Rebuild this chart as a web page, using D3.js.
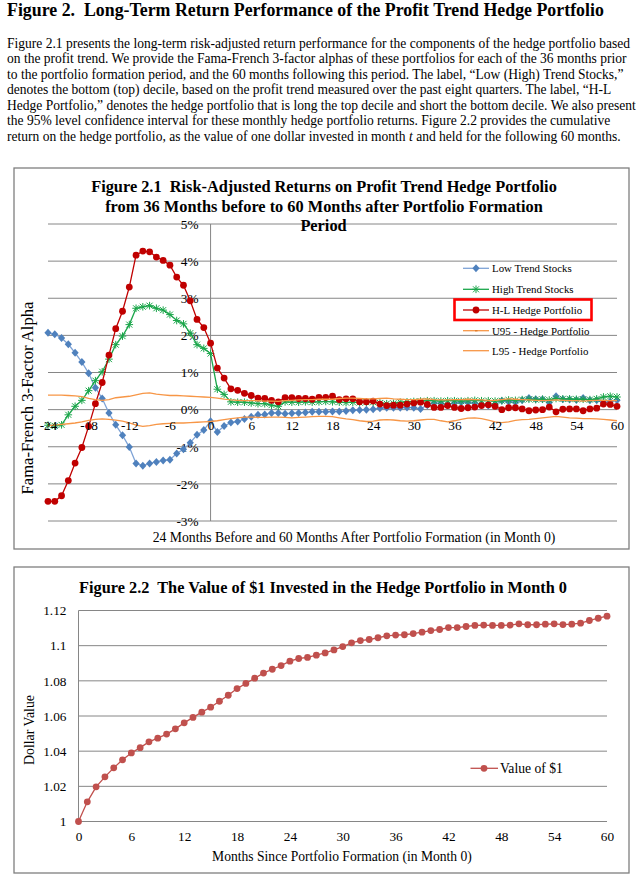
<!DOCTYPE html>
<html><head><meta charset="utf-8">
<script src="https://cdn.jsdelivr.net/npm/d3@7"></script>
<style>
body{margin:0;background:#fff}
svg{display:block}
text{font-family:"Liberation Serif","Times New Roman",serif;fill:#000}
</style>
</head><body>
<svg id="c" width="643" height="879"></svg>
<script>
// ---------- DATA ----------
const months1 = d3.range(-24, 61);
const lowTrend = [2.07,2.03,1.93,1.76,1.53,1.28,0.98,0.59,0.30,-0.09,-0.41,-0.69,-1.01,-1.45,-1.51,-1.45,-1.41,-1.37,-1.35,-1.18,-1.07,-0.89,-0.68,-0.55,
 -0.31,-0.60,-0.44,-0.35,-0.32,-0.25,-0.19,-0.14,-0.13,-0.09,-0.09,
 -0.11,-0.10,-0.09,-0.08,-0.06,-0.06,-0.06,-0.05,-0.05,-0.04,-0.02,-0.01,0.00,0.01,0.04,0.05,0.05,0.05,0.06,0.05,0.02,
 0.12,0.18,0.17,0.13,0.18,0.20,0.19,0.18,0.13,0.11,0.14,0.24,0.21,0.20,0.25,0.31,0.28,0.28,0.19,0.36,0.28,0.27,0.26,0.31,0.25,0.25,0.19,0.22,0.25];
const highTrend = [-0.42,-0.44,-0.41,-0.14,0.09,0.25,0.51,0.78,1.02,1.36,1.75,1.98,2.29,2.73,2.77,2.80,2.73,2.68,2.56,2.40,2.31,2.06,1.75,1.65,
 1.51,0.55,0.41,0.21,0.20,0.20,0.18,0.16,0.16,0.12,0.09,
 0.21,0.20,0.20,0.21,0.20,0.21,0.22,0.21,0.20,0.19,0.20,0.19,0.20,0.20,0.18,0.16,0.17,0.20,0.21,0.22,0.23,
 0.24,0.24,0.23,0.24,0.24,0.23,0.24,0.25,0.24,0.24,0.23,0.24,0.26,0.25,0.27,0.28,0.27,0.28,0.26,0.30,0.29,0.29,0.28,0.28,0.27,0.29,0.34,0.36,0.34];
const hedgeHL = [-2.47,-2.47,-2.32,-1.91,-1.44,-1.02,-0.45,0.16,0.73,1.47,2.18,2.65,3.30,4.16,4.27,4.25,4.11,4.02,3.89,3.57,3.35,2.93,2.43,2.21,
 1.79,1.12,0.85,0.56,0.52,0.44,0.38,0.31,0.30,0.25,0.21,
 0.32,0.32,0.30,0.30,0.28,0.33,0.33,0.36,0.27,0.29,0.29,0.21,0.21,0.23,0.15,0.11,0.12,0.12,0.15,0.18,0.20,
 0.14,0.06,0.06,0.11,0.06,0.03,0.05,0.07,0.11,0.13,0.09,0.00,0.05,0.05,0.02,-0.03,-0.01,0.00,0.07,-0.06,0.01,0.02,0.02,-0.03,0.02,0.04,0.15,0.14,0.09];
const u95 = [0.39,0.39,0.39,0.38,0.37,0.35,0.30,0.27,0.25,0.27,0.32,0.34,0.36,0.40,0.44,0.45,0.42,0.40,0.38,0.38,0.37,0.36,0.35,0.34,
 0.33,0.31,0.28,0.26,0.25,0.24,0.24,0.24,0.23,0.23,0.22,0.24,0.25,0.26,0.27,0.27,0.28,0.28,0.28,0.30,0.31,0.31,0.30,0.29,
 0.29,0.30,0.31,0.29,0.28,0.27,0.27,0.28,0.29,0.27,0.26,0.26,0.27,0.27,0.28,0.27,0.26,0.25,0.25,0.27,0.29,0.28,0.27,0.26,
 0.25,0.24,0.25,0.26,0.25,0.24,0.24,0.23,0.24,0.25,0.25,0.24,0.24];
const l95 = [-0.43,-0.42,-0.40,-0.38,-0.36,-0.33,-0.29,-0.26,-0.25,-0.26,-0.28,-0.31,-0.36,-0.42,-0.45,-0.43,-0.40,-0.38,-0.37,-0.36,-0.36,-0.35,-0.34,-0.33,
 -0.32,-0.30,-0.27,-0.24,-0.22,-0.20,-0.20,-0.21,-0.21,-0.20,-0.20,-0.21,-0.22,-0.21,-0.20,-0.19,-0.18,-0.18,-0.19,-0.22,-0.25,-0.27,-0.30,-0.32,
 -0.31,-0.28,-0.27,-0.28,-0.30,-0.31,-0.30,-0.28,-0.26,-0.26,-0.30,-0.33,-0.30,-0.26,-0.23,-0.22,-0.24,-0.28,-0.33,-0.35,-0.33,-0.29,-0.27,-0.26,
 -0.24,-0.22,-0.20,-0.18,-0.20,-0.22,-0.23,-0.24,-0.24,-0.25,-0.26,-0.28,-0.30];
const yTicks1 = [5,4,3,2,1,0,-1,-2,-3];
const xTicks1 = [-24,-18,-12,-6,0,6,12,18,24,30,36,42,48,54,60];
const seriesNames1 = ["Low Trend Stocks","High Trend Stocks","H-L Hedge Portfolio","U95 - Hedge Portfolio","L95 - Hedge Portfolio"];

const months2 = d3.range(0, 61);
const dollarValue = [1.000,1.0112,1.0197,1.0254,1.0305,1.0351,1.039,1.042,1.0453,1.0474,1.0497,1.0527,1.0561,1.0592,1.0622,1.065,1.0684,1.0718,1.0756,1.0785,1.0815,
 1.0844,1.0866,1.0887,1.0912,1.0927,1.0933,1.0946,1.0959,1.0976,1.0995,1.1016,1.1029,1.1035,1.1045,1.1056,1.106,1.1062,1.1069,1.1077,1.1086,
 1.1092,1.1103,1.1103,1.1109,1.1115,1.1117,1.1115,1.1115,1.1117,1.1124,1.1119,1.1119,1.1122,1.1124,1.112,1.1122,1.1128,1.1143,1.1156,1.1168];
const yTicks2 = [1,1.02,1.04,1.06,1.08,1.1,1.12];
const xTicks2 = [0,6,12,18,24,30,36,42,48,54,60];

const paragraph = [
 "Figure 2.1 presents the long-term risk-adjusted return performance for the components of the hedge portfolio based",
 "on the profit trend. We provide the Fama-French 3-factor alphas of these portfolios for each of the 36 months prior",
 "to the portfolio formation period, and the 60 months following this period. The label, \u201cLow (High) Trend Stocks,\u201d",
 "denotes the bottom (top) decile, based on the profit trend measured over the past eight quarters. The label, \u201cH-L",
 "Hedge Portfolio,\u201d denotes the hedge portfolio that is long the top decile and short the bottom decile. We also present",
 "the 95% level confidence interval for these monthly hedge portfolio returns. Figure 2.2 provides the cumulative",
 "return on the hedge portfolio, as the value of one dollar invested in month |t| and held for the following 60 months."
];

// ---------- HELPERS ----------
const svg = d3.select("#c");
const GRID = "#868686";
function fit(sel, w){
  const cur = sel.node().getComputedTextLength();
  const fs = parseFloat(sel.attr("font-size"));
  sel.attr("font-size", fs * w / cur);
  return fs * w / cur;
}

// ---------- HEADER ----------
const h = svg.append("text").attr("x",7).attr("y",16).attr("font-size",17).attr("font-weight","bold")
  .text("Figure 2.  Long-Term Return Performance of the Profit Trend Hedge Portfolio");
h.attr("xml:space","preserve").style("white-space","pre");
fit(h, 597);

// paragraph
const pg = svg.append("g");
const pLines = paragraph.map((ln,i)=>{
  const t = pg.append("text").attr("x",7).attr("y",47.5 + i*15.55).attr("font-size",13);
  const parts = ln.split("|");
  parts.forEach((p,j)=>{ t.append("tspan").style("font-style", j%2 ? "italic":"normal").text(p); });
  return t;
});
const pfs = fit(pLines[4], 630);
pLines.forEach(t=>t.attr("font-size", pfs));

// ---------- CHART 1 ----------
svg.append("rect").attr("x",14).attr("y",168).attr("width",615).attr("height",381)
  .attr("fill","none").attr("stroke","#7f7f7f").attr("stroke-width",1.3);

const x1 = d3.scaleLinear().domain([-24,60]).range([48,617]);
const y1 = d3.scaleLinear().domain([-3,5]).range([521,224]);
const g1 = svg.append("g");

// gridlines
g1.selectAll("line.g").data(yTicks1).join("line")
  .attr("x1",x1(-24)).attr("x2",x1(60)).attr("y1",d=>y1(d)).attr("y2",d=>y1(d))
  .attr("stroke",GRID).attr("stroke-width",1);
// vertical axis at month 0
g1.append("line").attr("x1",x1(0)).attr("x2",x1(0)).attr("y1",y1(5)).attr("y2",y1(-3))
  .attr("stroke",GRID).attr("stroke-width",1);

// y labels
const yAx1 = d3.axisLeft(y1).tickValues(yTicks1).tickSize(0).tickPadding(12).tickFormat(d=>d+"%");
const ya1 = g1.append("g").attr("transform",`translate(${x1(0)},0)`).call(yAx1);
ya1.select(".domain").remove();
ya1.selectAll("text").attr("font-size",13.3).attr("font-family","Liberation Serif").attr("fill","#000");

// titles
const t1 = svg.append("text").attr("x",324).attr("y",192).attr("text-anchor","middle").attr("font-weight","bold").attr("font-size",15)
  .text("Figure 2.1  Risk-Adjusted Returns on Profit Trend Hedge Portfolio").style("white-space","pre");
const tfs = fit(t1, 466);
svg.append("text").attr("x",324).attr("y",211.5).attr("text-anchor","middle").attr("font-weight","bold").attr("font-size",tfs)
  .text("from 36 Months before to 60 Months after Portfolio Formation");
svg.append("text").attr("x",323.5).attr("y",230.5).attr("text-anchor","middle").attr("font-weight","bold").attr("font-size",tfs)
  .text("Period");

// axis titles
const xt1 = svg.append("text").attr("x",354).attr("y",541.5).attr("text-anchor","middle").attr("font-size",13.3)
  .text("24 Months Before and 60 Months After Portfolio Formation (in Month 0)");
fit(xt1, 403);
const yt1 = svg.append("text").attr("transform","translate(32.5,398) rotate(-90)").attr("text-anchor","middle").attr("font-size",13.3)
  .text("Fama-French 3-Factor Alpha");
fit(yt1, 193);

// series
const C_BLUE="#4f81bd", C_BLUEL="#7ea3d6", C_GREEN="#1aa64a", C_RED="#c00000", C_ORANGE="#f79646";
const line1 = arr => d3.line().x((d,i)=>x1(months1[i])).y(d=>y1(d))(arr);
const diamond = "M0,-4L3.6,0L0,4L-3.6,0Z";
const aster = "M-3,-3L3,3M-3,3L3,-3M0,-3.8L0,3.8M-3.8,0L3.8,0";

// low trend
g1.append("path").attr("d",line1(lowTrend)).attr("fill","none").attr("stroke",C_BLUEL).attr("stroke-width",1.3);
g1.selectAll("path.lo").data(lowTrend).join("path").attr("class","lo")
  .attr("transform",(d,i)=>`translate(${x1(months1[i])},${y1(d)})`).attr("d",diamond).attr("fill",C_BLUE);
// high trend
g1.append("path").attr("d",line1(highTrend)).attr("fill","none").attr("stroke",C_GREEN).attr("stroke-width",1.3);
g1.selectAll("path.hi").data(highTrend).join("path").attr("class","hi")
  .attr("transform",(d,i)=>`translate(${x1(months1[i])},${y1(d)})`).attr("d",aster).attr("fill","none")
  .attr("stroke",C_GREEN).attr("stroke-width",1);
// H-L
g1.append("path").attr("d",line1(hedgeHL)).attr("fill","none").attr("stroke",C_RED).attr("stroke-width",1.3);
g1.selectAll("circle.hl").data(hedgeHL).join("circle").attr("class","hl")
  .attr("cx",(d,i)=>x1(months1[i])).attr("cy",d=>y1(d)).attr("r",3.4).attr("fill",C_RED);
// U95 / L95
g1.append("path").attr("d",line1(u95)).attr("fill","none").attr("stroke",C_ORANGE).attr("stroke-width",1.3);
g1.append("path").attr("d",line1(l95)).attr("fill","none").attr("stroke",C_ORANGE).attr("stroke-width",1.3);

// x labels (on top of lines)
const xAx1 = d3.axisBottom(x1).tickValues(xTicks1).tickSize(0).tickPadding(11).tickFormat(d=>String(d));
const xa1 = g1.append("g").attr("transform",`translate(0,${y1(0)})`).call(xAx1);
xa1.select(".domain").remove();
xa1.selectAll("text").attr("font-size",13.3).attr("font-family","Liberation Serif").attr("fill","#000");

// legend
const legY = [268.3,289.3,310,330.7,350.7];
const lg = svg.append("g");
const legItems = lg.selectAll("g").data(seriesNames1).join("g").attr("transform",(d,i)=>`translate(0,${legY[i]})`);
const legCols = [C_BLUEL,C_GREEN,C_RED,C_ORANGE,C_ORANGE];
legItems.append("line").attr("x1",463).attr("x2",489).attr("y1",0).attr("y2",0)
  .attr("stroke",(d,i)=>legCols[i]).attr("stroke-width",1.3);
lg.append("path").attr("transform",`translate(476,${legY[0]})`).attr("d",diamond).attr("fill",C_BLUE);
lg.append("path").attr("transform",`translate(476,${legY[1]})`).attr("d",aster).attr("fill","none").attr("stroke",C_GREEN);
lg.append("circle").attr("cx",476).attr("cy",legY[2]).attr("r",3.4).attr("fill",C_RED);
lg.append("rect").attr("x",475).attr("y",legY[3]-0.7).attr("width",2.5).attr("height",1.4).attr("fill","#e07b2a");
const legTexts = legItems.append("text").attr("x",492).attr("y",0).attr("dy","0.35em").attr("font-size",11).text(d=>d);
const lfs = fit(d3.select(legTexts.nodes()[1]), 81.7);
legTexts.attr("font-size", lfs);
lg.append("rect").attr("x",454.5).attr("y",299.5).attr("width",137).attr("height",20.5)
  .attr("fill","none").attr("stroke","#ff0000").attr("stroke-width",2.6);

// ---------- CHART 2 ----------
svg.append("rect").attr("x",14).attr("y",567).attr("width",615).attr("height",306)
  .attr("fill","none").attr("stroke","#7f7f7f").attr("stroke-width",1.3);
const x2 = d3.scaleLinear().domain([0,60]).range([78.5,607]);
const y2 = d3.scaleLinear().domain([1,1.12]).range([821.5,610.5]);
const g2 = svg.append("g");
g2.selectAll("line.g").data(yTicks2).join("line")
  .attr("x1",x2(0)).attr("x2",x2(60)).attr("y1",d=>y2(d)).attr("y2",d=>y2(d))
  .attr("stroke",GRID).attr("stroke-width",1);
g2.append("line").attr("x1",x2(0)).attr("x2",x2(0)).attr("y1",y2(1.12)).attr("y2",y2(1))
  .attr("stroke",GRID).attr("stroke-width",1);
const ya2 = g2.append("g").attr("transform",`translate(${x2(0)},0)`)
  .call(d3.axisLeft(y2).tickValues(yTicks2).tickSize(0).tickPadding(12).tickFormat(d=>String(+d.toFixed(2))));
ya2.select(".domain").remove();
ya2.selectAll("text").attr("font-size",13.3).attr("font-family","Liberation Serif").attr("fill","#000");
const xa2 = g2.append("g").attr("transform",`translate(0,${y2(1)})`)
  .call(d3.axisBottom(x2).tickValues(xTicks2).tickSize(0).tickPadding(10).tickFormat(d=>String(d)));
xa2.select(".domain").remove();
xa2.selectAll("text").attr("font-size",13.3).attr("font-family","Liberation Serif").attr("fill","#000");

const C_DV = "#c0504d";
g2.append("path").attr("d", d3.line().x((d,i)=>x2(months2[i])).y(d=>y2(d))(dollarValue))
  .attr("fill","none").attr("stroke",C_DV).attr("stroke-width",1.3);
g2.selectAll("circle").data(dollarValue).join("circle")
  .attr("cx",(d,i)=>x2(months2[i])).attr("cy",d=>y2(d)).attr("r",3.4).attr("fill",C_DV);

const t2 = svg.append("text").attr("x",323).attr("y",592.5).attr("text-anchor","middle").attr("font-weight","bold").attr("font-size",15)
  .text("Figure 2.2  The Value of $1 Invested in the Hedge Portfolio in Month 0").style("white-space","pre");
fit(t2, 488);
const xt2 = svg.append("text").attr("x",342).attr("y",861).attr("text-anchor","middle").attr("font-size",13.3)
  .text("Months Since Portfolio Formation (in Month 0)");
fit(xt2, 260);
const yt2 = svg.append("text").attr("transform","translate(33.5,730) rotate(-90)").attr("text-anchor","middle").attr("font-size",13.3)
  .text("Dollar Value");
fit(yt2, 70);
// legend 2
svg.append("line").attr("x1",470.5).attr("x2",498).attr("y1",768.3).attr("y2",768.3).attr("stroke",C_DV).attr("stroke-width",1.3);
svg.append("circle").attr("cx",484).attr("cy",768.3).attr("r",3.4).attr("fill",C_DV);
const l2 = svg.append("text").attr("x",500).attr("y",768.3).attr("dy","0.35em").attr("font-size",13.3).text("Value of $1");
fit(l2, 63);
</script>
</body></html>
